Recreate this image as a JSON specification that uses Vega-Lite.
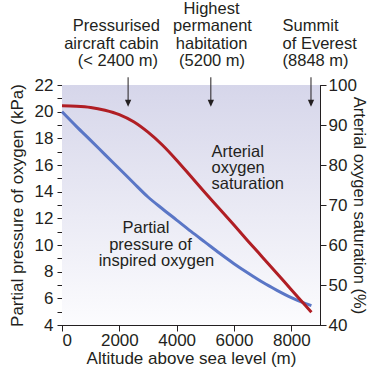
{
  "$schema": "https://vega.github.io/schema/vega-lite/v6.json",
  "width": 258,
  "height": 240,
  "autosize": "none",
  "padding": {"left": 62, "top": 85, "right": 48, "bottom": 44},
  "background": "#ffffff",
  "config": {
    "font": "Liberation Sans",
    "view": {"stroke": "#231f20", "strokeWidth": 1},
    "axis": {
      "domainColor": "#231f20", "tickColor": "#231f20", "labelColor": "#231f20", "titleColor": "#231f20",
      "labelFont": "Liberation Sans", "titleFont": "Liberation Sans",
      "labelFontSize": 17, "titleFontSize": 17, "titleFontWeight": "normal",
      "grid": false, "labelOverlap": false, "domainWidth": 1, "tickWidth": 1
    },
    "text": {"font": "Liberation Sans", "fontSize": 16, "color": "#231f20"}
  },
  "layer": [
    {
      "layer": [
        {
          "data": {"values": [{"x": 0, "x2": 9000, "y": 4, "y2": 22}]},
          "mark": {"type": "rect", "stroke": null, "fill": {"gradient": "linear", "x1": 0, "y1": 0, "x2": 0, "y2": 1, "stops": [{"offset": 0, "color": "#d6d6ea"}, {"offset": 1, "color": "#fcfcfe"}]}},
          "encoding": {
            "x": {"field": "x", "type": "quantitative"},
            "x2": {"field": "x2"},
            "y": {"field": "y", "type": "quantitative"},
            "y2": {"field": "y2"}
          }
        },
        {
          "data": {"values": [
            {"alt": 0, "kpa": 20.0}, {"alt": 500, "kpa": 18.9}, {"alt": 1000, "kpa": 17.85}, {"alt": 1500, "kpa": 16.78},
            {"alt": 2000, "kpa": 15.72}, {"alt": 2500, "kpa": 14.65}, {"alt": 3000, "kpa": 13.6}, {"alt": 3500, "kpa": 12.72},
            {"alt": 4000, "kpa": 11.87}, {"alt": 4500, "kpa": 11.02}, {"alt": 5000, "kpa": 10.2}, {"alt": 5500, "kpa": 9.38},
            {"alt": 6000, "kpa": 8.6}, {"alt": 6500, "kpa": 7.88}, {"alt": 7000, "kpa": 7.2}, {"alt": 7500, "kpa": 6.6},
            {"alt": 8000, "kpa": 6.05}, {"alt": 8500, "kpa": 5.6}, {"alt": 8700, "kpa": 5.45}
          ]},
          "mark": {"type": "line", "color": "#5a76c6", "strokeWidth": 3, "interpolate": "monotone"},
          "encoding": {
            "x": {"field": "alt", "type": "quantitative"},
            "y": {"field": "kpa", "type": "quantitative"}
          }
        },
        {
          "data": {"values": [
            {"alt": 2306, "top": 22.58, "bot": 20.8},
            {"alt": 5192, "top": 22.58, "bot": 20.8},
            {"alt": 8686, "top": 22.58, "bot": 20.8}
          ]},
          "mark": {"type": "rule", "color": "#231f20", "strokeWidth": 1},
          "encoding": {
            "x": {"field": "alt", "type": "quantitative"},
            "y": {"field": "top", "type": "quantitative"},
            "y2": {"field": "bot"}
          }
        },
        {
          "data": {"values": [
            {"alt": 2306, "tip": 20.37},
            {"alt": 5192, "tip": 20.37},
            {"alt": 8686, "tip": 20.37}
          ]},
          "mark": {"type": "point", "shape": "M -0.45 -1 L 0 0 L 0.45 -1 Z", "size": 196, "filled": true, "color": "#231f20", "opacity": 1, "strokeWidth": 0},
          "encoding": {
            "x": {"field": "alt", "type": "quantitative"},
            "y": {"field": "tip", "type": "quantitative"}
          }
        },
        {
          "data": {"values": [
            {"alt": 1897, "kpa": 26.02, "t": "Pressurised"},
            {"alt": 1723, "kpa": 24.71, "t": "aircraft cabin"},
            {"alt": 1950, "kpa": 23.39, "t": "(< 2400 m)"},
            {"alt": 5217, "kpa": 27.34, "t": "Highest"},
            {"alt": 5250, "kpa": 26.02, "t": "permanent"},
            {"alt": 5217, "kpa": 24.71, "t": "habitation"},
            {"alt": 5235, "kpa": 23.39, "t": "(5200 m)"},
            {"alt": 2928, "kpa": 10.87, "t": "Partial"},
            {"alt": 3085, "kpa": 9.59, "t": "pressure of"},
            {"alt": 3295, "kpa": 8.39, "t": "inspired oxygen"}
          ]},
          "mark": {"type": "text", "align": "center", "baseline": "alphabetic", "fontSize": 16.5},
          "encoding": {
            "x": {"field": "alt", "type": "quantitative"},
            "y": {"field": "kpa", "type": "quantitative"},
            "text": {"field": "t"}
          }
        },
        {
          "data": {"values": [
            {"alt": 7694, "kpa": 26.02, "t": "Summit"},
            {"alt": 7694, "kpa": 24.71, "t": "of Everest"},
            {"alt": 7694, "kpa": 23.39, "t": "(8848 m)"},
            {"alt": 5217, "kpa": 16.59, "t": "Arterial"},
            {"alt": 5217, "kpa": 15.38, "t": "oxygen"},
            {"alt": 5217, "kpa": 14.18, "t": "saturation"}
          ]},
          "mark": {"type": "text", "align": "left", "baseline": "alphabetic", "fontSize": 16.5},
          "encoding": {
            "x": {"field": "alt", "type": "quantitative"},
            "y": {"field": "kpa", "type": "quantitative"},
            "text": {"field": "t"}
          }
        }
      ],
      "encoding": {
        "x": {
          "type": "quantitative",
          "scale": {"domain": [0, 9000], "nice": false, "zero": false},
          "axis": {
            "title": "Altitude above sea level (m)",
            "values": [0, 1000, 2000, 3000, 4000, 5000, 6000, 7000, 8000, 9000],
            "format": "d",
            "labelExpr": "datum.value % 2000 === 0 && datum.value < 9000 ? datum.label : ''",
            "tickSize": 6, "labelPadding": 1, "titlePadding": 2
          }
        },
        "y": {
          "type": "quantitative",
          "scale": {"domain": [4, 22], "nice": false, "zero": false},
          "axis": {
            "title": "Partial pressure of oxygen (kPa)",
            "orient": "left",
            "values": [4, 5, 6, 7, 8, 9, 10, 11, 12, 13, 14, 15, 16, 17, 18, 19, 20, 21, 22],
            "labelExpr": "datum.value % 2 === 0 ? datum.label : ''",
            "tickSize": 5, "labelPadding": 4, "titlePadding": 8
          }
        }
      }
    },
    {
      "data": {"values": [
        {"alt": 0, "sat": 94.8}, {"alt": 500, "sat": 94.7}, {"alt": 1000, "sat": 94.4}, {"alt": 1500, "sat": 93.7},
        {"alt": 2000, "sat": 92.6}, {"alt": 2500, "sat": 90.8}, {"alt": 3000, "sat": 88.2}, {"alt": 3500, "sat": 85.0},
        {"alt": 4000, "sat": 81.2}, {"alt": 4500, "sat": 77.1}, {"alt": 5000, "sat": 73.0}, {"alt": 5500, "sat": 69.0},
        {"alt": 6000, "sat": 65.0}, {"alt": 6500, "sat": 60.9}, {"alt": 7000, "sat": 56.9}, {"alt": 7500, "sat": 52.9},
        {"alt": 8000, "sat": 48.8}, {"alt": 8500, "sat": 44.8}, {"alt": 8700, "sat": 43.2}
      ]},
      "mark": {"type": "line", "color": "#b01e24", "strokeWidth": 3, "interpolate": "monotone"},
      "encoding": {
        "x": {"field": "alt", "type": "quantitative"},
        "y": {
          "field": "sat", "type": "quantitative",
          "scale": {"domain": [40, 100], "nice": false, "zero": false},
          "axis": {
            "title": "Arterial oxygen saturation (%)",
            "orient": "right",
            "values": [40, 50, 60, 70, 80, 90, 100],
            "tickSize": 6, "labelPadding": 2, "titlePadding": -6, "titleFontSize": 16.5
          }
        }
      }
    }
  ],
  "resolve": {"scale": {"y": "independent"}, "axis": {"y": "independent"}}
}
